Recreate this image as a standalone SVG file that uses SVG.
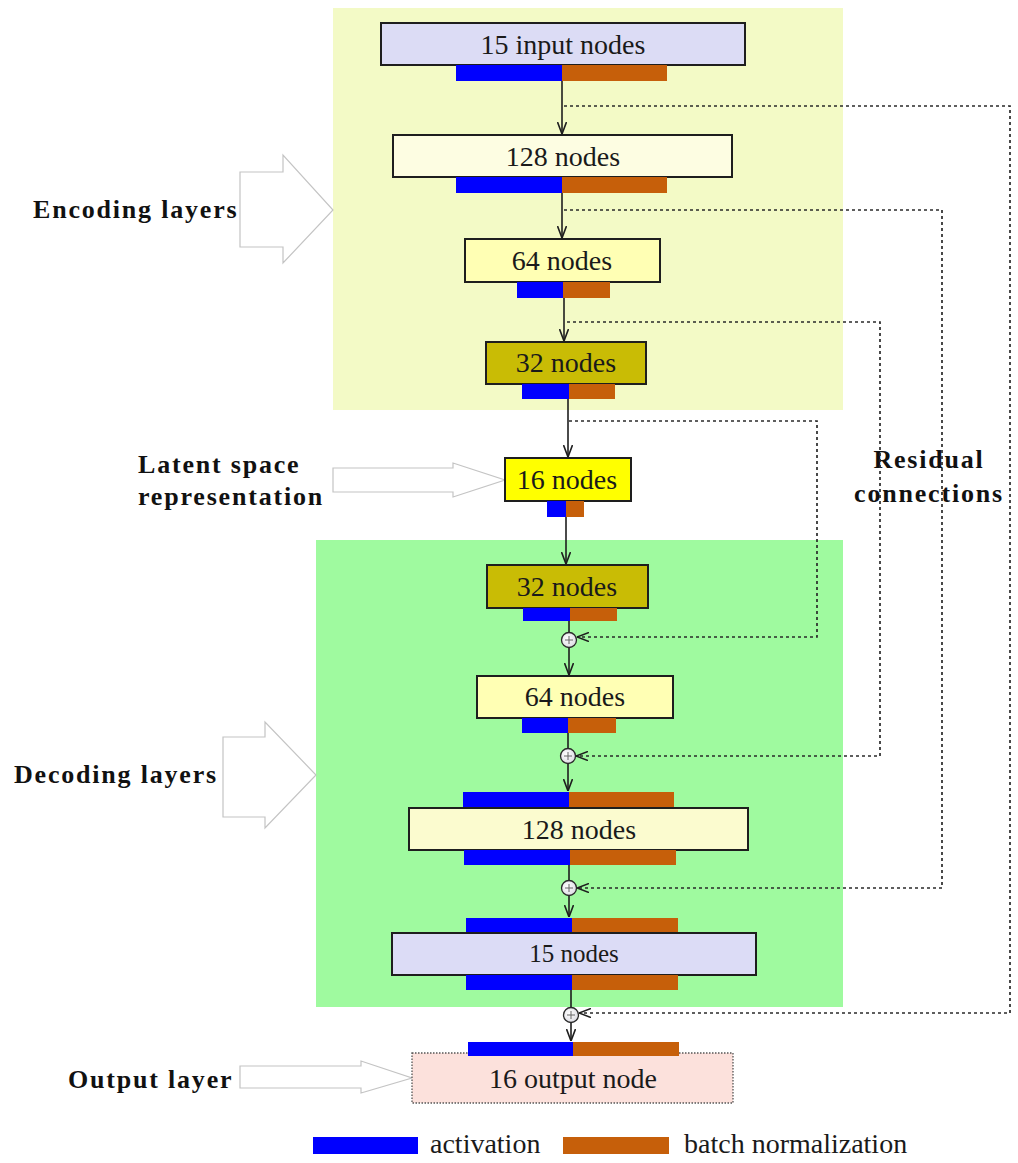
<svg xmlns="http://www.w3.org/2000/svg" width="1018" height="1163" viewBox="0 0 1018 1163">
  <style>
    .node { stroke: #1e1e1e; stroke-width: 2; }
    .lbl { font-family: "Liberation Serif", "Times New Roman", serif; font-size: 28px; fill: #1a1a1a; text-anchor: middle; }
    .side { font-family: "Liberation Serif", "Times New Roman", serif; font-size: 26px; font-weight: bold; fill: #111; letter-spacing: 1.8px; }
    .act { fill: #0000FF; }
    .bn { fill: #C65F0A; }
    .blk { fill: #FFFFFF; stroke: #C4C4C4; stroke-width: 1.2; }
    .flow { stroke: #1e1e1e; stroke-width: 1.6; fill: none; }
    .res { stroke: #2a2a2a; stroke-width: 1.7; fill: none; stroke-dasharray: 3 3; }
    .sum { fill: url(#sumg); stroke: #2a2a2a; stroke-width: 1.3; }
    .plus { stroke: #666; stroke-width: 1; }
    .leg { font-family: "Liberation Serif", "Times New Roman", serif; font-size: 28px; fill: #1a1a1a; }
  </style>
  <defs>
    <marker id="arr" viewBox="0 0 12 10" refX="12" refY="5" markerWidth="12" markerHeight="10" markerUnits="userSpaceOnUse" orient="auto">
      <path d="M0,0.5 L12,5 L0,9.5" fill="none" stroke="#1e1e1e" stroke-width="1.6"/>
    </marker>
    <radialGradient id="sumg" cx="0.4" cy="0.4" r="0.7">
      <stop offset="0" stop-color="#FFFFFF"/>
      <stop offset="1" stop-color="#D8D8E0"/>
    </radialGradient>
  </defs>

  <rect width="1018" height="1163" fill="#FFFFFF"/>

  <g id="regions">
    <rect id="encoder-bg" x="333" y="8" width="510" height="402" fill="#F3FAC6"/>
    <rect id="decoder-bg" x="316" y="540" width="527" height="467" fill="#9FFA9F"/>
  </g>

  <g id="side-labels">
    <g id="encoding-label">
      <path class="blk" d="M240,172 H283 V155 L333,210 L283,263 V247 H240 Z"/>
      <text class="side" x="33" y="218">Encoding layers</text>
    </g>
    <g id="latent-label">
      <path class="blk" d="M333,468 H453 V463 L505,480 L453,497 V492 H333 Z"/>
      <text class="side" x="138" y="473">Latent space</text>
      <text class="side" x="138" y="505">representation</text>
    </g>
    <g id="decoding-label">
      <path class="blk" d="M223,737 H265 V722 L316,775 L265,828 V817 H223 Z"/>
      <text class="side" x="14" y="783">Decoding layers</text>
    </g>
    <g id="output-label">
      <path class="blk" d="M240,1066 H361 V1061 L412,1078 L361,1093 V1088 H240 Z"/>
      <text class="side" x="68" y="1088">Output layer</text>
    </g>
    <g id="residual-label">
      <text class="side" x="929" y="468" text-anchor="middle">Residual</text>
      <text class="side" x="929" y="502" text-anchor="middle">connections</text>
    </g>
  </g>

  <g id="connectors">
    <line class="flow" x1="562" y1="81" x2="562" y2="134" marker-end="url(#arr)"/>
    <line class="flow" x1="562" y1="193" x2="562" y2="238" marker-end="url(#arr)"/>
    <line class="flow" x1="564" y1="298" x2="564" y2="341" marker-end="url(#arr)"/>
    <line class="flow" x1="568" y1="399" x2="568" y2="457" marker-end="url(#arr)"/>
    <line class="flow" x1="566" y1="517" x2="566" y2="564" marker-end="url(#arr)"/>
    <line class="flow" x1="569" y1="621" x2="569" y2="633"/>
    <line class="flow" x1="569" y1="647" x2="569" y2="675" marker-end="url(#arr)"/>
    <line class="flow" x1="568" y1="733" x2="568" y2="749"/>
    <line class="flow" x1="568" y1="763" x2="568" y2="791" marker-end="url(#arr)"/>
    <line class="flow" x1="569" y1="865" x2="569" y2="881"/>
    <line class="flow" x1="569" y1="895" x2="569" y2="917" marker-end="url(#arr)"/>
    <line class="flow" x1="571" y1="990" x2="571" y2="1008"/>
    <line class="flow" x1="571" y1="1022" x2="571" y2="1041" marker-end="url(#arr)"/>

    <path class="res" d="M564,106 H1010 V1013 H579" marker-end="url(#arr)"/>
    <path class="res" d="M564,210 H942 V888 H577" marker-end="url(#arr)"/>
    <path class="res" d="M567,322 H880 V756 H576" marker-end="url(#arr)"/>
    <path class="res" d="M569,421 H817 V637 H577" marker-end="url(#arr)"/>

    <g id="sum-nodes">
      <circle class="sum" cx="569" cy="640" r="7.5"/>
      <path class="plus" d="M565,640 H573 M569,636 V644"/>
      <circle class="sum" cx="568" cy="756" r="7.5"/>
      <path class="plus" d="M564,756 H572 M568,752 V760"/>
      <circle class="sum" cx="569" cy="888" r="7.5"/>
      <path class="plus" d="M565,888 H573 M569,884 V892"/>
      <circle class="sum" cx="571" cy="1015" r="7.5"/>
      <path class="plus" d="M567,1015 H575 M571,1011 V1019"/>
    </g>
  </g>

  <g id="n-input">
    <rect class="node" x="381" y="23" width="364" height="42" fill="#DCDCF5"/>
    <rect class="act" x="456" y="65" width="106" height="16"/>
    <rect class="bn" x="562" y="65" width="105" height="16"/>
    <text class="lbl" x="563" y="54">15 input nodes</text>
  </g>
  <g id="n-enc128">
    <rect class="node" x="393" y="135" width="339" height="42" fill="#FDFDE2"/>
    <rect class="act" x="456" y="177" width="106" height="16"/>
    <rect class="bn" x="562" y="177" width="105" height="16"/>
    <text class="lbl" x="563" y="166">128 nodes</text>
  </g>
  <g id="n-enc64">
    <rect class="node" x="465" y="239" width="195" height="43" fill="#FFFFB4"/>
    <rect class="act" x="517" y="282" width="46" height="16"/>
    <rect class="bn" x="563" y="282" width="47" height="16"/>
    <text class="lbl" x="562" y="270">64 nodes</text>
  </g>
  <g id="n-enc32">
    <rect class="node" x="486" y="342" width="160" height="42" fill="#C9BC05"/>
    <rect class="act" x="522" y="384" width="47" height="15"/>
    <rect class="bn" x="569" y="384" width="46" height="15"/>
    <text class="lbl" x="566" y="372">32 nodes</text>
  </g>
  <g id="n-latent">
    <rect class="node" x="505" y="458" width="126" height="43" fill="#FFFF00"/>
    <rect class="act" x="547" y="501" width="19" height="16"/>
    <rect class="bn" x="566" y="501" width="18" height="16"/>
    <text class="lbl" x="567" y="489">16 nodes</text>
  </g>
  <g id="n-dec32">
    <rect class="node" x="487" y="565" width="161" height="43" fill="#C9BC05"/>
    <rect class="act" x="523" y="608" width="47" height="13"/>
    <rect class="bn" x="570" y="608" width="47" height="13"/>
    <text class="lbl" x="567" y="596">32 nodes</text>
  </g>
  <g id="n-dec64">
    <rect class="node" x="477" y="676" width="196" height="42" fill="#FFFFB4"/>
    <rect class="act" x="522" y="718" width="46" height="15"/>
    <rect class="bn" x="568" y="718" width="48" height="15"/>
    <text class="lbl" x="575" y="706">64 nodes</text>
  </g>
  <g id="n-dec128">
    <rect class="act" x="463" y="792" width="106" height="16"/>
    <rect class="bn" x="569" y="792" width="105" height="16"/>
    <rect class="node" x="409" y="808" width="339" height="42" fill="#FBFBCF"/>
    <rect class="act" x="464" y="850" width="106" height="15"/>
    <rect class="bn" x="570" y="850" width="106" height="15"/>
    <text class="lbl" x="579" y="839">128 nodes</text>
  </g>
  <g id="n-dec15">
    <rect class="act" x="466" y="918" width="106" height="15"/>
    <rect class="bn" x="572" y="918" width="106" height="15"/>
    <rect class="node" x="392" y="933" width="364" height="42" fill="#DCDCF6"/>
    <rect class="act" x="466" y="975" width="106" height="15"/>
    <rect class="bn" x="572" y="975" width="106" height="15"/>
    <text class="lbl" x="574" y="962" style="font-size:25px">15 nodes</text>
  </g>
  <g id="n-output">
    <rect x="412" y="1053" width="321" height="50" fill="#FCE1DC" stroke="#555" stroke-width="1.3" stroke-dasharray="1.5 1.5"/>
    <rect class="act" x="468" y="1042" width="105" height="14"/>
    <rect class="bn" x="573" y="1042" width="106" height="14"/>
    <text class="lbl" x="573" y="1088">16 output node</text>
  </g>

  <g id="legend">
    <rect class="act" x="313" y="1137" width="105" height="17"/>
    <text class="leg" x="430" y="1153">activation</text>
    <rect class="bn" x="563" y="1137" width="106" height="17"/>
    <text class="leg" x="684" y="1153">batch normalization</text>
  </g>
</svg>
